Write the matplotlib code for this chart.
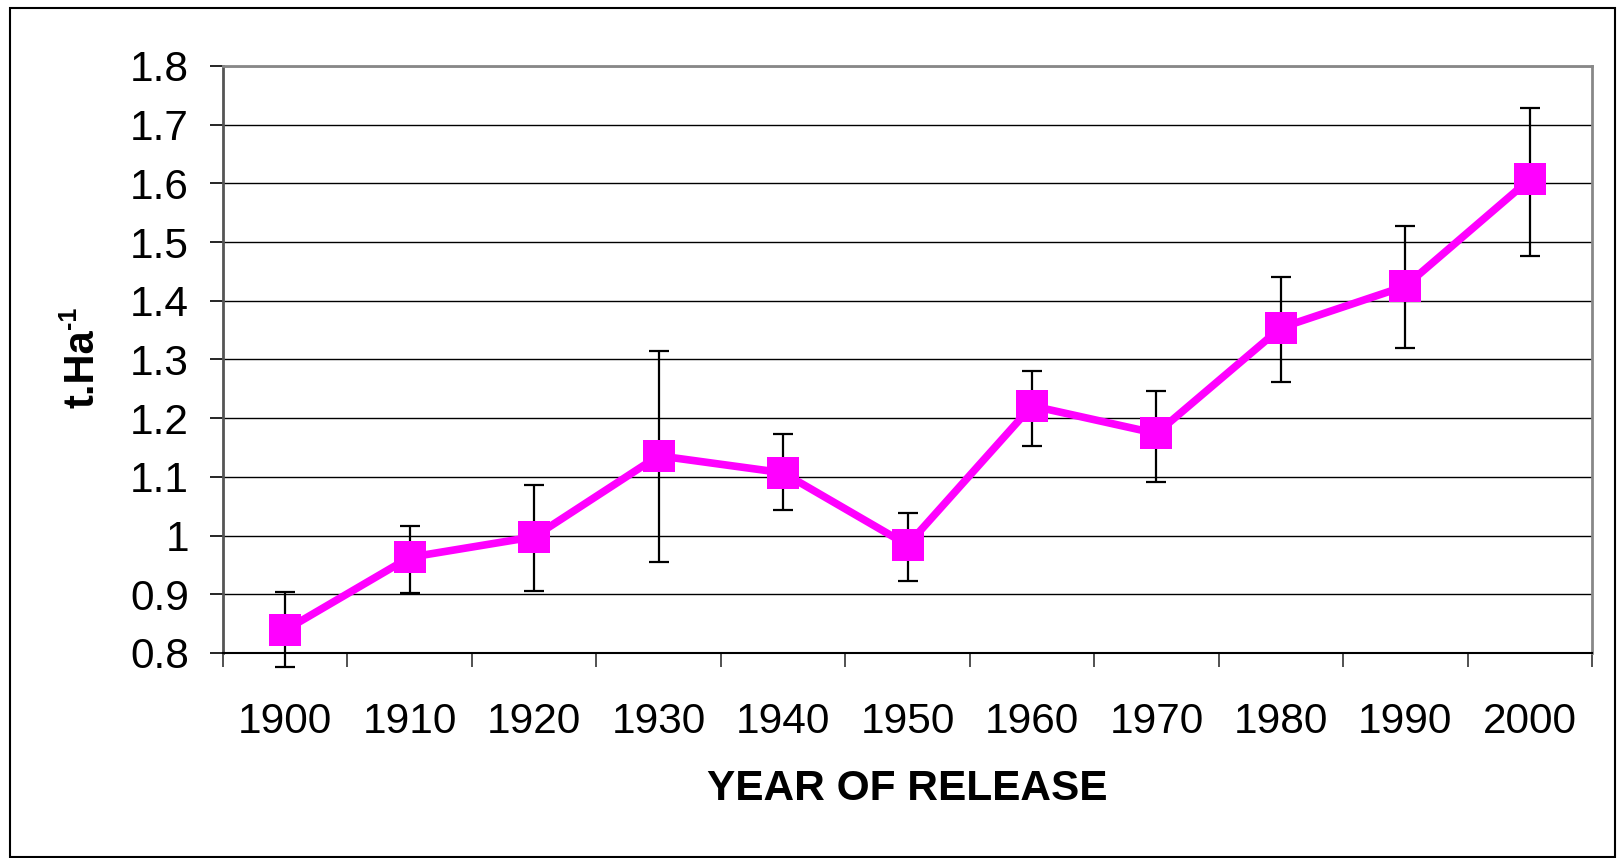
import numpy as np
import matplotlib
matplotlib.use("Agg")
import matplotlib.pyplot as plt
from matplotlib.patches import Rectangle

# -----------------------------
# Data
# -----------------------------
years = ["1900", "1910", "1920", "1930", "1940", "1950",
         "1960", "1970", "1980", "1990", "2000"]
means = [0.839, 0.963, 0.998, 1.136, 1.107, 0.984,
         1.221, 1.174, 1.354, 1.425, 1.607]
upper = [0.904, 1.016, 1.086, 1.315, 1.173, 1.038,
         1.281, 1.247, 1.441, 1.527, 1.728]
lower = [0.776, 0.903, 0.906, 0.955, 1.043, 0.922,
         1.153, 1.091, 1.262, 1.320, 1.477]
y_ticks = [0.8, 0.9, 1.0, 1.1, 1.2, 1.3, 1.4, 1.5, 1.6, 1.7, 1.8]

plt.rcParams['font.family'] = ['Liberation Sans', 'DejaVu Sans']

W, H = 1617, 858
fig = plt.figure(figsize=(W / 100, H / 100), dpi=100)
ax = fig.add_axes([223 / W, 1 - 653 / H, (1592 - 223) / W, (653 - 66) / H])

x = np.arange(len(years))
m = np.array(means)
yerr = [m - np.array(lower), np.array(upper) - m]

# -----------------------------
# Error bars, line, markers
# -----------------------------
ax.errorbar(x, m, yerr=yerr, fmt='none', ecolor='black', elinewidth=1.6,
            capsize=7.5, capthick=1.6, zorder=3, clip_on=False)
ax.plot(x, m, color='#FF00FF', lw=5.5, marker='s', markersize=23,
        markeredgewidth=0, zorder=4, clip_on=False)

# -----------------------------
# Axes styling
# -----------------------------
ax.set_xlim(-0.5, len(years) - 0.5)
ax.set_ylim(0.8, 1.8)
ax.set_yticks(y_ticks)
ax.set_yticklabels(["%g" % v for v in y_ticks])
ax.set_xticks(x)
ax.set_xticklabels(years)
ax.set_xticks(np.arange(-0.5, len(years)), minor=True)
ax.tick_params(axis='x', which='major', length=0, pad=35, labelsize=30.5)
ax.tick_params(axis='x', which='minor', length=10, width=1.2, color='#333333',
               direction='out')
ax.tick_params(axis='y', length=9.5, width=1.2, pad=15, labelsize=30.5,
               direction='out')

ax.yaxis.grid(True, color='black', lw=1.0)
ax.set_axisbelow(True)
for side in ['top', 'right']:
    ax.spines[side].set_color('#888888')
    ax.spines[side].set_linewidth(2)
ax.spines['left'].set_color('#555555')
ax.spines['left'].set_linewidth(2)
ax.spines['bottom'].set_color('black')
ax.spines['bottom'].set_linewidth(1.5)

ax.set_xlabel("YEAR OF RELEASE", fontsize=30.5, fontweight='bold', labelpad=20)
ax.set_ylabel("t.Ha", fontsize=30, fontweight='bold', labelpad=20, y=0.484)

# superscript "-1" placed at the end of the rotated y label
fig.canvas.draw()
bb = ax.yaxis.label.get_window_extent()
fig.text((bb.x0 + 19) / W, (bb.y1 + 1) / H, "-1", rotation=90, fontsize=18,
         fontweight='bold', ha='right', va='bottom')

# outer chart border
fig.patches.append(Rectangle((10 / W, 1 / H), (1615 - 10) / W, (850 - 1) / H,
                             transform=fig.transFigure, fill=False,
                             edgecolor='black', lw=1.5))

fig.savefig("out.png", dpi=100)
